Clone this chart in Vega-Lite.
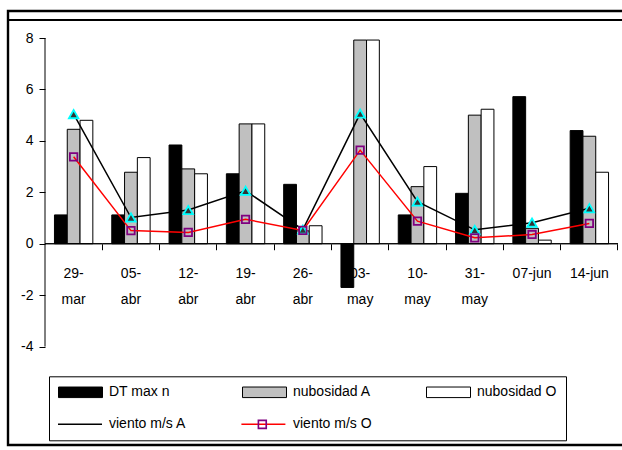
{
  "$schema": "https://vega.github.io/schema/vega-lite/v6.json",
  "width": 614,
  "height": 434,
  "autosize": "none",
  "padding": {"left": 8, "top": 11, "right": 0, "bottom": 5},
  "background": "white",
  "config": {
    "font": "Liberation Sans",
    "view": {"stroke": "black", "strokeWidth": 2.4, "strokeDash": [614, 434, 1100, 0]},
    "axis": {"labelFont": "Liberation Sans", "labelFontSize": 14, "labelColor": "black", "domain": false, "tickColor": "black", "grid": false, "title": null, "tickWidth": 1}
  },
  "data": {
    "values": [
      {"fecha": "29-mar", "serie": "DT max n", "valor": 1.12},
      {"fecha": "05-abr", "serie": "DT max n", "valor": 1.12},
      {"fecha": "12-abr", "serie": "DT max n", "valor": 3.84},
      {"fecha": "19-abr", "serie": "DT max n", "valor": 2.72},
      {"fecha": "26-abr", "serie": "DT max n", "valor": 2.31},
      {"fecha": "03-may", "serie": "DT max n", "valor": -1.7},
      {"fecha": "10-may", "serie": "DT max n", "valor": 1.12},
      {"fecha": "31-may", "serie": "DT max n", "valor": 1.96},
      {"fecha": "07-jun", "serie": "DT max n", "valor": 5.72},
      {"fecha": "14-jun", "serie": "DT max n", "valor": 4.4},
      {"fecha": "29-mar", "serie": "nubosidad A", "valor": 4.45},
      {"fecha": "05-abr", "serie": "nubosidad A", "valor": 2.78},
      {"fecha": "12-abr", "serie": "nubosidad A", "valor": 2.91},
      {"fecha": "19-abr", "serie": "nubosidad A", "valor": 4.66},
      {"fecha": "26-abr", "serie": "nubosidad A", "valor": 0.5},
      {"fecha": "03-may", "serie": "nubosidad A", "valor": 7.92},
      {"fecha": "10-may", "serie": "nubosidad A", "valor": 2.22},
      {"fecha": "31-may", "serie": "nubosidad A", "valor": 5.0},
      {"fecha": "07-jun", "serie": "nubosidad A", "valor": 0.6},
      {"fecha": "14-jun", "serie": "nubosidad A", "valor": 4.18},
      {"fecha": "29-mar", "serie": "nubosidad O", "valor": 4.8},
      {"fecha": "05-abr", "serie": "nubosidad O", "valor": 3.35},
      {"fecha": "12-abr", "serie": "nubosidad O", "valor": 2.72},
      {"fecha": "19-abr", "serie": "nubosidad O", "valor": 4.66},
      {"fecha": "26-abr", "serie": "nubosidad O", "valor": 0.7},
      {"fecha": "03-may", "serie": "nubosidad O", "valor": 7.92},
      {"fecha": "10-may", "serie": "nubosidad O", "valor": 3.0},
      {"fecha": "31-may", "serie": "nubosidad O", "valor": 5.23},
      {"fecha": "07-jun", "serie": "nubosidad O", "valor": 0.14},
      {"fecha": "14-jun", "serie": "nubosidad O", "valor": 2.78},
      {"fecha": "29-mar", "serie": "viento m/s A", "valor": 5.04},
      {"fecha": "05-abr", "serie": "viento m/s A", "valor": 1.02},
      {"fecha": "12-abr", "serie": "viento m/s A", "valor": 1.31},
      {"fecha": "19-abr", "serie": "viento m/s A", "valor": 2.06},
      {"fecha": "26-abr", "serie": "viento m/s A", "valor": 0.55},
      {"fecha": "03-may", "serie": "viento m/s A", "valor": 5.06},
      {"fecha": "10-may", "serie": "viento m/s A", "valor": 1.64},
      {"fecha": "31-may", "serie": "viento m/s A", "valor": 0.54},
      {"fecha": "07-jun", "serie": "viento m/s A", "valor": 0.82},
      {"fecha": "14-jun", "serie": "viento m/s A", "valor": 1.38},
      {"fecha": "29-mar", "serie": "viento m/s O", "valor": 3.38},
      {"fecha": "05-abr", "serie": "viento m/s O", "valor": 0.51},
      {"fecha": "12-abr", "serie": "viento m/s O", "valor": 0.44},
      {"fecha": "19-abr", "serie": "viento m/s O", "valor": 0.95},
      {"fecha": "26-abr", "serie": "viento m/s O", "valor": 0.52},
      {"fecha": "03-may", "serie": "viento m/s O", "valor": 3.64},
      {"fecha": "10-may", "serie": "viento m/s O", "valor": 0.88},
      {"fecha": "31-may", "serie": "viento m/s O", "valor": 0.23},
      {"fecha": "07-jun", "serie": "viento m/s O", "valor": 0.36},
      {"fecha": "14-jun", "serie": "viento m/s O", "valor": 0.79}
    ]
  },
  "resolve": {"scale": {"fill": "independent", "stroke": "independent"}},
  "layer": [
    {
      "transform": [{"filter": "indexof(['DT max n','nubosidad A','nubosidad O'], datum.serie) >= 0"}],
      "mark": {"type": "bar", "strokeWidth": 1},
      "encoding": {
        "x": {
          "field": "fecha", "type": "nominal",
          "sort": ["29-mar","05-abr","12-abr","19-abr","26-abr","03-may","10-may","31-may","07-jun","14-jun"],
          "scale": {"domain": ["29-mar","05-abr","12-abr","19-abr","26-abr","03-may","10-may","31-may","07-jun","14-jun"], "paddingInner": 0, "paddingOuter": 0.3578, "align": 0.9024},
          "axis": {
            "orient": "bottom", "offset": -201.26, "bandPosition": 1, "tickSize": 6, "labelPadding": 17,
            "labelAngle": 0, "labelOverlap": false, "labelLineHeight": 26, "zindex": 0,
            "labelExpr": "(datum.value == '07-jun' || datum.value == '14-jun') ? datum.value : [slice(datum.value, 0, 3), slice(datum.value, 3)]"
          }
        },
        "xOffset": {
          "field": "serie", "type": "nominal",
          "sort": ["DT max n", "nubosidad A", "nubosidad O"],
          "scale": {"paddingInner": 0, "paddingOuter": 0.74}
        },
        "y": {
          "field": "valor", "type": "quantitative",
          "scale": {"domain": [-7.826, 9.05], "nice": false, "zero": false},
          "axis": {"values": [-4, -2, 0, 2, 4, 6, 8], "offset": -37, "tickSize": 6, "labelPadding": 6, "zindex": 0,
                   "labelExpr": "datum.value < 0 ? '-' + abs(datum.value) : '' + datum.value"}
        },
        "fill": {
          "field": "serie", "type": "nominal",
          "scale": {
            "domain": ["DT max n", "nubosidad A", "nubosidad O", "viento m/s A", "viento m/s O"],
            "range": ["black", "#c0c0c0", "white", "transparent", "transparent"]
          },
          "legend": {
            "orient": "none", "legendX": 41, "legendY": 365.3, "direction": "horizontal",
            "columns": 3, "columnPadding": 53, "rowPadding": 18, "gridAlign": "all", "clipHeight": 14,
            "title": null, "labelFont": "Liberation Sans", "labelFontSize": 14, "labelColor": "black",
            "labelOffset": 6, "labelLimit": 300, "symbolSize": 1936, "symbolStrokeWidth": 1,
            "symbolType": "M-1,-0.24H1V0.24H-1Z", "padding": 9, "strokeColor": "black"
          }
        },
        "stroke": {
          "field": "serie", "type": "nominal",
          "scale": {
            "domain": ["DT max n", "nubosidad A", "nubosidad O", "viento m/s A", "viento m/s O"],
            "range": ["black", "black", "black", "transparent", "transparent"]
          },
          "legend": {
            "orient": "none", "legendX": 41, "legendY": 365.3, "direction": "horizontal",
            "columns": 3, "columnPadding": 53, "rowPadding": 18, "gridAlign": "all", "clipHeight": 14,
            "title": null, "labelFont": "Liberation Sans", "labelFontSize": 14, "labelColor": "black",
            "labelOffset": 6, "labelLimit": 300, "symbolSize": 1936, "symbolStrokeWidth": 1,
            "symbolType": "M-1,-0.24H1V0.24H-1Z", "padding": 9, "strokeColor": "black"
          }
        }
      }
    },
    {
      "transform": [{"filter": "datum.serie == 'DT max n'"}],
      "mark": {"type": "rect", "fill": null, "stroke": "black", "strokeWidth": 1},
      "encoding": {
        "x": {"field": "fecha", "type": "nominal"},
        "y": {"datum": 0},
        "y2": {"datum": 0}
      }
    },
    {
      "transform": [{"filter": "datum.serie == 'DT max n' && datum.fecha == '29-mar'"}],
      "mark": {"type": "rule", "stroke": "black", "strokeWidth": 1},
      "encoding": {
        "x": {"field": "fecha", "type": "nominal", "bandPosition": 0},
        "y": {"datum": -4},
        "y2": {"datum": 8}
      }
    },
    {
      "mark": {"type": "rule", "stroke": "black", "strokeWidth": 1},
      "encoding": {
        "y": {"datum": 8.7}
      }
    },
    {
      "transform": [{"filter": "indexof(['viento m/s A','viento m/s O'], datum.serie) >= 0"}],
      "mark": {"type": "line", "strokeWidth": 1.5},
      "encoding": {
        "x": {"field": "fecha", "type": "nominal", "sort": ["29-mar","05-abr","12-abr","19-abr","26-abr","03-may","10-may","31-may","07-jun","14-jun"]},
        "y": {"field": "valor", "type": "quantitative"},
        "color": {
          "field": "serie", "type": "nominal",
          "scale": {"domain": ["viento m/s O", "viento m/s A"], "range": ["red", "black"]},
          "legend": {
            "orient": "none", "legendX": 49, "legendY": 406.3, "direction": "horizontal",
            "values": ["viento m/s A", "viento m/s O"],
            "columns": 2, "columnPadding": 137.4, "clipHeight": 14, "title": null,
            "labelExpr": "''", "labelFontSize": 1, "labelOffset": 0,
            "symbolType": "stroke", "symbolSize": 1936, "symbolStrokeWidth": 1.5, "padding": 0
          }
        }
      }
    },
    {
      "transform": [{"filter": "indexof(['viento m/s A','viento m/s O'], datum.serie) >= 0"}],
      "mark": {"type": "point", "opacity": 1, "strokeWidth": 1.8},
      "encoding": {
        "x": {"field": "fecha", "type": "nominal", "sort": ["29-mar","05-abr","12-abr","19-abr","26-abr","03-may","10-may","31-may","07-jun","14-jun"]},
        "y": {"field": "valor", "type": "quantitative"},
        "shape": {
          "field": "serie", "type": "nominal",
          "scale": {"domain": ["viento m/s A", "viento m/s O"], "range": ["triangle-up", "square"]},
          "legend": {
            "orient": "none", "legendX": 66.5, "legendY": 406.3, "direction": "horizontal",
            "values": ["viento m/s A"], "clipHeight": 14, "title": null,
            "labelExpr": "''", "labelFontSize": 1, "labelOffset": 0,
            "symbolSize": 80, "symbolStrokeWidth": 1.8, "padding": 0,
            "symbolFillColor": "#333333", "symbolStrokeColor": "#00ffff"
          }
        },
        "fill": {
          "field": "serie", "type": "nominal",
          "scale": {"domain": ["viento m/s A", "viento m/s O"], "range": ["#333333", "transparent"]},
          "legend": {
            "orient": "none", "legendX": 249.3, "legendY": 406.3, "direction": "horizontal",
            "values": ["viento m/s O"], "clipHeight": 14, "title": null,
            "labelExpr": "''", "labelFontSize": 1, "labelOffset": 0,
            "symbolType": "square", "symbolSize": 64, "symbolStrokeWidth": 1.8, "padding": 0,
            "symbolStrokeColor": "#800080"
          }
        },
        "stroke": {
          "field": "serie", "type": "nominal",
          "scale": {"domain": ["viento m/s A", "viento m/s O"], "range": ["#00ffff", "#800080"]},
          "legend": null
        },
        "size": {
          "field": "serie", "type": "nominal",
          "scale": {"domain": ["viento m/s A", "viento m/s O"], "range": [90, 56]},
          "legend": null
        }
      }
    }
  ]
}
